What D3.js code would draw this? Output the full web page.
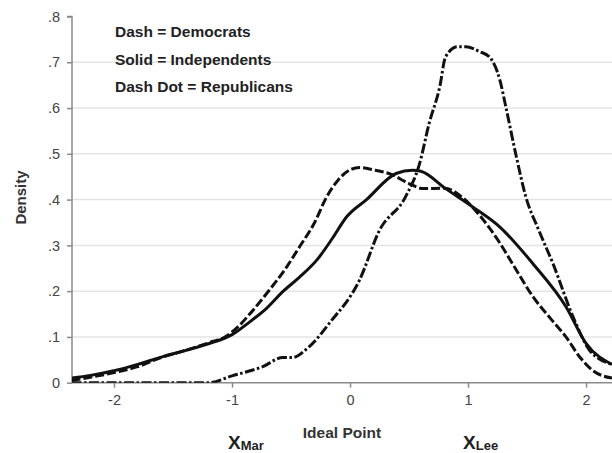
<!DOCTYPE html>
<html>
<head>
<meta charset="utf-8" />
<title>Ideal Point Density</title>
<script src="https://cdn.jsdelivr.net/npm/d3@7"></script>
<style>
    body { margin: 0; background: #fff; }
    #chart svg { display: block; font-family: "Liberation Sans", Arial, sans-serif; }
    .line { fill: none; stroke: #111; stroke-width: 3px; stroke-linejoin: round; }
</style>
</head>
<body>
<div id="chart"></div>
<script>
// Data (ideal point, density)
var demX = [-2.36, -2.2, -2.0, -1.8, -1.6, -1.4, -1.2, -1.06, -0.95, -0.85, -0.7, -0.55, -0.43, -0.3, -0.2, -0.1, 0.0, 0.08, 0.2, 0.35, 0.5, 0.62, 0.8, 0.95, 1.1, 1.27, 1.4, 1.55, 1.7, 1.83, 1.95, 2.05, 2.22]
var demY = [0.005, 0.012, 0.022, 0.035, 0.055, 0.07, 0.087, 0.10, 0.122, 0.15, 0.197, 0.248, 0.296, 0.35, 0.405, 0.443, 0.465, 0.47, 0.465, 0.455, 0.435, 0.424, 0.425, 0.405, 0.365, 0.305, 0.25, 0.188, 0.14, 0.10, 0.055, 0.028, 0.01]

var indX = [-2.36, -2.2, -2.0, -1.8, -1.6, -1.4, -1.2, -1.0, -0.85, -0.71, -0.57, -0.43, -0.275, -0.15, -0.03, 0.14, 0.39, 0.53, 0.6, 0.81, 1.04, 1.27, 1.55, 1.83, 2.0, 2.22]
var indY = [0.01, 0.016, 0.026, 0.04, 0.056, 0.07, 0.085, 0.105, 0.133, 0.162, 0.199, 0.23, 0.27, 0.315, 0.362, 0.40, 0.457, 0.464, 0.462, 0.424, 0.384, 0.34, 0.26, 0.166, 0.086, 0.04]

var repX = [-2.36, -2.0, -1.6, -1.2, -1.0, -0.74, -0.57, -0.49, -0.345, -0.175, 0.08, 0.25, 0.47, 0.59, 0.67, 0.76, 0.81, 0.91, 0.98, 1.1, 1.18, 1.27, 1.32, 1.41, 1.49, 1.6, 1.72, 1.89, 2.03, 2.22]
var repY = [0.0, 0.0, 0.0, 0.0, 0.015, 0.035, 0.055, 0.055, 0.079, 0.13, 0.224, 0.333, 0.406, 0.479, 0.566, 0.646, 0.712, 0.734, 0.734, 0.723, 0.712, 0.661, 0.603, 0.493, 0.406, 0.333, 0.26, 0.144, 0.071, 0.04]

var xTicks = [-2, -1, 0, 1, 2]
var yTicks = [0, 0.1, 0.2, 0.3, 0.4, 0.5, 0.6, 0.7, 0.8]
var legendLabels = ["Dash = Democrats", "Solid = Independents", "Dash Dot = Republicans"]

var margin = { top: 16.5, right: 0, bottom: 70.3, left: 72 },
    width = 612 - margin.left - margin.right,
    height = 453 - margin.top - margin.bottom

var xScale = d3.scaleLinear().domain([-2.356, 2.22]).range([0, width])
var yScale = d3.scaleLinear().domain([0, 0.8]).range([height, 0])

var svg = d3.select("#chart").append("svg")
    .attr("width", 612).attr("height", 453)
var chart = svg.append("g")
    .attr("transform", "translate(" + margin.left + "," + margin.top + ")")

svg.append("defs").append("clipPath").attr("id", "plot")
    .append("rect").attr("x", 0).attr("y", -5).attr("width", width).attr("height", height + 5)

// Gridlines
chart.selectAll(".grid").data(yTicks.filter(function(d) { return d > 0 && d < 0.8 }))
    .enter().append("line")
    .attr("x1", 0).attr("x2", width)
    .attr("y1", function(d) { return yScale(d) }).attr("y2", function(d) { return yScale(d) })
    .attr("stroke", "#e4e4e4").attr("stroke-width", 1.5)

var fmt = function(d) { return d === 0 ? "0" : d3.format(".1f")(d).replace(/^0/, "") }

var yAxis = chart.append("g")
    .call(d3.axisLeft(yScale).tickValues(yTicks).tickFormat(fmt).tickSize(5).tickPadding(7))
var xAxis = chart.append("g")
    .attr("transform", "translate(0," + height + ")")
    .call(d3.axisBottom(xScale).tickValues(xTicks).tickFormat(function(d) { return String(d) }).tickSize(5).tickPadding(7))

;[yAxis, xAxis].forEach(function(ax) {
    ax.select(".domain").attr("stroke", "#8a8a8a").attr("stroke-width", 1.5)
    ax.selectAll(".tick line").attr("stroke", "#8a8a8a").attr("stroke-width", 1.5)
    ax.selectAll("text").attr("fill", "#444").style("font-size", "14.5px")
        .style("font-family", "'Liberation Sans', Arial, sans-serif")
})
yAxis.select(".domain").attr("d", "M0," + height + "V0H-5")
xAxis.select(".domain").attr("d", "M0,0H" + width)

// Curves
var line = d3.line()
    .x(function(d) { return xScale(d[0]) })
    .y(function(d) { return yScale(d[1]) })
    .curve(d3.curveMonotoneX)

var series = [
    { pts: d3.zip(demX, demY), dash: "9,3" },
    { pts: d3.zip(indX, indY), dash: null },
    { pts: d3.zip(repX, repY), dash: "10,2.5,2.5,2.5" }
]
var plot = chart.append("g").attr("clip-path", "url(#plot)")
series.forEach(function(s) {
    plot.append("path").datum(s.pts)
        .attr("class", "line")
        .attr("d", line)
        .attr("stroke-dasharray", s.dash)
})

// Legend text
svg.selectAll(".legend").data(legendLabels).enter().append("text")
    .attr("x", 115)
    .attr("y", function(d, i) { return 37 + i * 27.5 })
    .attr("fill", "#222").style("font-size", "15.5px").style("font-weight", "bold")
    .text(function(d) { return d })

// Axis titles
svg.append("text")
    .attr("transform", "translate(26,197.5) rotate(-90)")
    .attr("text-anchor", "middle")
    .attr("fill", "#333").style("font-size", "15px").style("font-weight", "bold")
    .text("Density")

svg.append("text")
    .attr("x", 342).attr("y", 438)
    .attr("text-anchor", "middle")
    .attr("fill", "#333").style("font-size", "15.5px").style("font-weight", "bold")
    .text("Ideal Point")

function subLabel(x, sub) {
    var t = svg.append("text").attr("x", x).attr("y", 449)
        .attr("fill", "#222").style("font-weight", "bold")
    t.append("tspan").style("font-size", "19px").text("X")
    t.append("tspan").style("font-size", "13px").attr("dy", 1).text(sub)
}
subLabel(xScale(-1) + margin.left - 4, "Mar")
subLabel(xScale(1) + margin.left - 5, "Lee")
</script>
</body>
</html>
